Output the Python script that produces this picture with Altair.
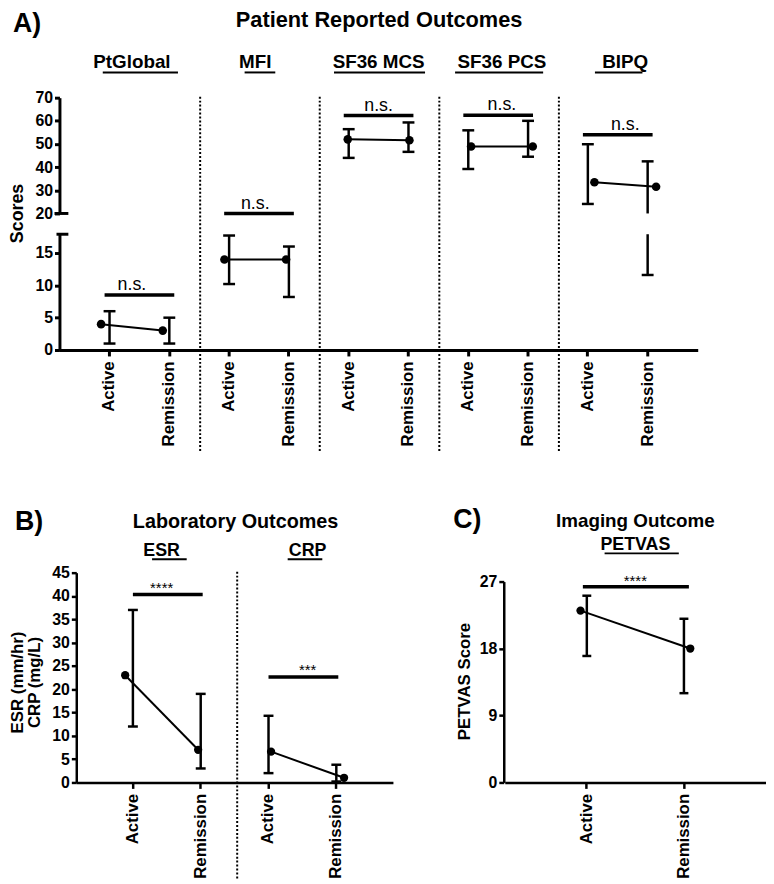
import altair as alt
import pandas as pd

FONT = "Liberation Sans"
STATES = ["Active", "Remission"]

# ---------------- Panel A: Patient Reported Outcomes (broken y axis) ----------------
A_GROUPS = ["PtGlobal", "MFI", "SF36 MCS", "SF36 PCS", "BIPQ"]
A_MEAN = [4.0, 3.0, 14.0, 14.0, 52.0, 51.6, 48.9, 48.9, 33.5, 31.5]
A_LOW = [1.0, 1.0, 10.2, 8.2, 44.0, 46.6, 39.2, 44.5, 24.1, 11.6]
A_HIGH = [6.0, 5.0, 17.7, 16.0, 56.4, 59.3, 55.9, 60.0, 49.9, 42.5]
A_SIG_Y = [8.5, 20.0, 62.3, 62.4, 54.0]
A_SIG_TEXT = ["n.s.", "n.s.", "n.s.", "n.s.", "n.s."]
A_LOWER_RANGE = [0, 17.9]
A_UPPER_RANGE = [20, 70]
A_LOWER_TICKS = [0, 5, 10, 15]
A_UPPER_TICKS = [20, 30, 40, 50, 60, 70]

# ---------------- Panel B: Laboratory Outcomes ----------------
B_GROUPS = ["ESR", "CRP"]
B_MEAN = [23.0, 7.0, 6.6, 1.0]
B_LOW = [12.0, 3.0, 2.0, 0.2]
B_HIGH = [37.0, 19.0, 14.3, 3.8]
B_SIG_Y = [40.3, 22.6]
B_SIG_TEXT = ["****", "***"]
B_RANGE = [0, 45]
B_TICKS = [0, 5, 10, 15, 20, 25, 30, 35, 40, 45]

# ---------------- Panel C: Imaging Outcome ----------------
C_GROUPS = ["PETVAS"]
C_MEAN = [23.1, 18.0]
C_LOW = [17.0, 12.0]
C_HIGH = [25.1, 22.0]
C_SIG_Y = [26.3]
C_SIG_TEXT = ["****"]
C_RANGE = [0, 27]
C_TICKS = [0, 9, 18, 27]

# ---------------- layout (pixels inside the chart) ----------------
W, H = 766, 876
AX, APAD = [52, 697], 0.675
A_LO_PX, A_UP_PX = [341, 224], [203, 86]
BX, BPAD, B_PX = [69, 389], 0.67, [778, 566]
CX, CPAD, C_PX = [502, 766], 0.69, [778, 575]


def keys(groups):
    return [f"{g}|{s}" for g in groups for s in STATES]


def step(rng, n, pad):
    return (rng[1] - rng[0]) / (n - 1 + 2 * pad)


def xscale(groups, rng, pad):
    return alt.Scale(domain=keys(groups), range=rng, padding=pad)


def yscale(dom, rng):
    return alt.Scale(domain=dom, range=rng, nice=False, zero=False)


def frame(groups, mean, low, high):
    return pd.DataFrame({
        "key": keys(groups),
        "group": [g for g in groups for _ in STATES],
        "mean": mean, "low": low, "high": high,
    })


def sig_frame(groups, ys, texts):
    return pd.DataFrame({
        "a": [f"{g}|Active" for g in groups],
        "b": [f"{g}|Remission" for g in groups],
        "y": ys, "text": texts,
    })


def ex(field, sc, axis=None):
    return alt.X(f"{field}:N", scale=sc, axis=axis, title=None)


def ey(field, sc, axis=None):
    return alt.Y(f"{field}:Q", scale=sc, axis=axis, title=None)


def x_axis(offset, width):
    return alt.Axis(orient="bottom", offset=offset, labelExpr="split(datum.value, '|')[1]",
                    labelAngle=270, labelAlign="right", labelBaseline="middle",
                    labelFont=FONT, labelFontSize=17, labelFontWeight="bold", labelColor="black",
                    labelPadding=5, labelOverlap=False, tickSize=6, tickWidth=width,
                    tickColor="black", domainWidth=width, domainColor="black", grid=False, title=None)


def y_axis(offset, values, width):
    return alt.Axis(orient="left", offset=offset, values=values, labelFont=FONT, labelFontSize=16,
                    labelFontWeight="bold", labelColor="black", labelPadding=2, labelOverlap=False,
                    labelFlush=False, tickSize=5, tickWidth=width, tickColor="black",
                    domainWidth=width, domainColor="black", grid=False, title=None)


def label(text, x, y, size, weight="bold", align="center", angle=0, baseline="alphabetic"):
    kw = dict(font=FONT, fontSize=size, fontWeight=weight, align=align, baseline=baseline, color="black")
    if angle:
        kw["angle"] = angle
    return alt.Chart(pd.DataFrame({"t": [text]})).mark_text(**kw).encode(
        x=alt.value(x), y=alt.value(y), text="t:N")


def series_layers(pts, errs, caps, xs, ys, cap_w, pt_size, xax=None, yax=None):
    out = []
    if len(pts):
        out.append(alt.Chart(pts).mark_line(color="black", strokeWidth=2).encode(
            x=ex("key", xs), y=ey("mean", ys), detail="group:N"))
    out.append(alt.Chart(errs).mark_rule(color="black", strokeWidth=2.5).encode(
        x=ex("key", xs, xax), y=ey("y1", ys, yax), y2="y2"))
    out.append(alt.Chart(caps).mark_rule(color="black", strokeWidth=2.5,
                                         xOffset=-cap_w / 2, x2Offset=cap_w / 2).encode(
        x=ex("key", xs), x2="key", y=ey("v", ys)))
    if len(pts):
        out.append(alt.Chart(pts).mark_circle(color="black", size=pt_size, opacity=1).encode(
            x=ex("key", xs), y=ey("mean", ys)))
    return out


def sig_layers(sig, xs, ys, half, o1, o2, fs, dy):
    return [
        alt.Chart(sig).mark_rule(color="black", strokeWidth=3.5, xOffset=o1, x2Offset=o2).encode(
            x=ex("a", xs), x2="b", y=ey("y", ys)),
        alt.Chart(sig).mark_text(font=FONT, fontSize=fs, xOffset=half, dy=dy, baseline="alphabetic",
                                 align="center", color="black").encode(
            x=ex("a", xs), y=ey("y", ys), text="text:N"),
    ]


def subtitle_layers(groups, xs, half, y_text, y_line, widths, size):
    sub = pd.DataFrame({"a": [f"{g}|Active" for g in groups], "g": groups})
    out = [alt.Chart(sub).mark_text(font=FONT, fontSize=size, fontWeight="bold", xOffset=half,
                                    baseline="alphabetic", align="center", color="black").encode(
        x=ex("a", xs), y=alt.value(y_text), text="g:N")]
    for g, w in zip(groups, widths):
        out.append(alt.Chart(pd.DataFrame({"a": [f"{g}|Active"]})).mark_rule(
            color="black", strokeWidth=2, xOffset=half - w / 2, x2Offset=half + w / 2).encode(
            x=ex("a", xs), x2="a", y=alt.value(y_line)))
    return out


def separators(groups, xs, half, y0, y1, xax=None):
    sep = pd.DataFrame({"k": [f"{g}|Remission" for g in groups[:-1]]})
    return alt.Chart(sep).mark_rule(color="black", strokeWidth=2, strokeDash=[2, 2], xOffset=half).encode(
        x=ex("k", xs, xax), y=alt.value(y0), y2=alt.value(y1))


layers = []

# ---------- Panel A ----------
xA = xscale(A_GROUPS, AX, APAD)
halfA = step(AX, 10, APAD) / 2
yA_lo = yscale(A_LOWER_RANGE, A_LO_PX)
yA_up = yscale(A_UPPER_RANGE, A_UP_PX)
lo_top, up_bot = A_LOWER_RANGE[1], A_UPPER_RANGE[0]

dfA = frame(A_GROUPS, A_MEAN, A_LOW, A_HIGH)
err_lo, err_up, cap_lo, cap_up = [], [], [], []
for r in dfA.itertuples():
    if r.low < lo_top:
        err_lo.append({"key": r.key, "y1": r.low, "y2": min(r.high, lo_top)})
        cap_lo.append({"key": r.key, "v": r.low})
    if r.high <= lo_top:
        cap_lo.append({"key": r.key, "v": r.high})
    if r.high > up_bot:
        err_up.append({"key": r.key, "y1": max(r.low, up_bot), "y2": r.high})
        cap_up.append({"key": r.key, "v": r.high})
    if r.low >= up_bot:
        cap_up.append({"key": r.key, "v": r.low})

sigA = sig_frame(A_GROUPS, A_SIG_Y, A_SIG_TEXT)
layers.append(separators(A_GROUPS, xA, halfA, 85, 444, x_axis(341 - H, 3)))
layers += sig_layers(sigA[sigA["y"] <= lo_top], xA, yA_lo, halfA, -5, 5, 18, -5)
layers += sig_layers(sigA[sigA["y"] >= up_bot], xA, yA_up, halfA, -5, 5, 18, -5)
layers += series_layers(dfA[dfA["mean"] <= lo_top], pd.DataFrame(err_lo), pd.DataFrame(cap_lo),
                        xA, yA_lo, 12, 75, yax=y_axis(-AX[0], A_LOWER_TICKS, 3))
layers += series_layers(dfA[dfA["mean"] >= up_bot], pd.DataFrame(err_up), pd.DataFrame(cap_up),
                        xA, yA_up, 12, 75, yax=y_axis(-AX[0], A_UPPER_TICKS, 3))
# axis break markers
layers.append(alt.Chart(pd.DataFrame({"v": [up_bot]})).mark_rule(color="black", strokeWidth=3).encode(
    x=alt.value(47), x2=alt.value(61), y=ey("v", yA_up)))
layers.append(alt.Chart(pd.DataFrame({"v": [lo_top]})).mark_rule(color="black", strokeWidth=3).encode(
    x=alt.value(49), x2=alt.value(61), y=ey("v", yA_lo)))
layers += subtitle_layers(A_GROUPS, xA, halfA, 56, 60.5, [76, 31, 92, 89, 48], 19)

# ---------- Panel B ----------
xB = xscale(B_GROUPS, BX, BPAD)
halfB = step(BX, 4, BPAD) / 2
yB = yscale(B_RANGE, B_PX)
dfB = frame(B_GROUPS, B_MEAN, B_LOW, B_HIGH)
errB = pd.DataFrame({"key": dfB["key"], "y1": dfB["low"], "y2": dfB["high"]})
capB = pd.concat([pd.DataFrame({"key": dfB["key"], "v": dfB["low"]}),
                  pd.DataFrame({"key": dfB["key"], "v": dfB["high"]})])
layers.append(separators(B_GROUPS, xB, halfB, 565, 876, x_axis(B_PX[0] - H, 2.5)))
layers += sig_layers(sig_frame(B_GROUPS, B_SIG_Y, B_SIG_TEXT), xB, yB, halfB, 0, 2, 15, -2)
layers += series_layers(dfB, errB, capB, xB, yB, 10, 70, yax=y_axis(-BX[0], B_TICKS, 2.5))
layers += subtitle_layers(B_GROUPS, xB, halfB, 549, 552.5, [35, 35], 18)

# ---------- Panel C ----------
xC = xscale(C_GROUPS, CX, CPAD)
halfC = step(CX, 2, CPAD) / 2
yC = yscale(C_RANGE, C_PX)
dfC = frame(C_GROUPS, C_MEAN, C_LOW, C_HIGH)
errC = pd.DataFrame({"key": dfC["key"], "y1": dfC["low"], "y2": dfC["high"]})
capC = pd.concat([pd.DataFrame({"key": dfC["key"], "v": dfC["low"]}),
                  pd.DataFrame({"key": dfC["key"], "v": dfC["high"]})])
layers += sig_layers(sig_frame(C_GROUPS, C_SIG_Y, C_SIG_TEXT), xC, yC, halfC, -4, 5, 15, -1)
layers += series_layers(dfC, errC, capC, xC, yC, 9, 70,
                        xax=x_axis(C_PX[0] - H, 2.5), yax=y_axis(-(CX[0] - 1), C_TICKS, 2.5))
layers += subtitle_layers(C_GROUPS, xC, halfC, 543, 546.5, [75], 18)

# ---------- titles ----------
layers += [
    label("A)", 5, 20, 27, align="left"),
    label("Patient Reported Outcomes", 375, 15, 22),
    label("Scores", 10, 203, 18, angle=270, baseline="middle"),
    label("B)", 7, 523, 27, align="left"),
    label("Laboratory Outcomes", 230, 521, 20),
    label("ESR (mm/hr)", 10, 677, 17, angle=270, baseline="middle"),
    label("CRP (mg/L)", 27, 677, 17, angle=270, baseline="middle"),
    label("C)", 450, 521, 27, align="left"),
    label("Imaging Outcome", 634, 520, 19),
    label("PETVAS Score", 462, 676, 17, angle=270, baseline="middle"),
]

chart = alt.layer(*layers).resolve_scale(x="independent", y="independent").properties(
    width=W, height=H, padding=0, autosize=alt.AutoSizeParams(type="none"), background="white"
).configure_view(stroke=None)

chart.save("out.html", embed_options={"renderer": "svg", "actions": False})
